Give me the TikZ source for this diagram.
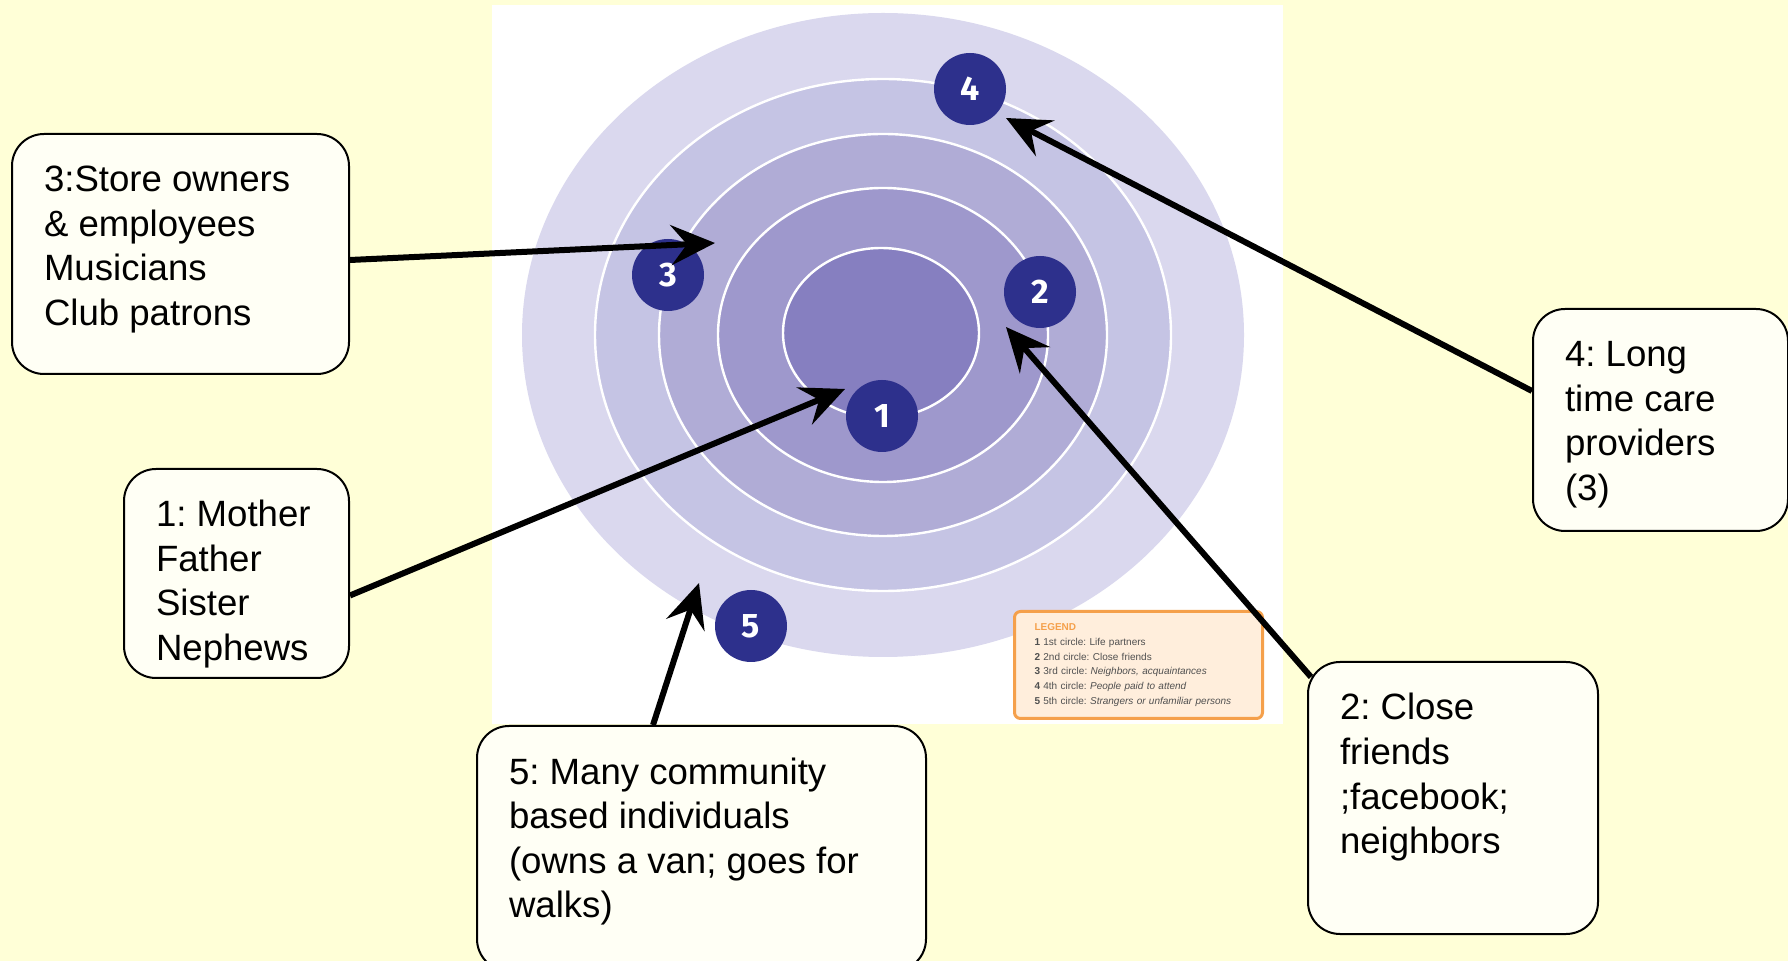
\documentclass[tikz,border=0pt]{standalone}
\usepackage{fontspec}
\setmainfont{Liberation Sans}
\newfontfamily\badgefont{Fira Sans}
\usetikzlibrary{arrows.meta,calc}
\frenchspacing

\definecolor{slidebg}{RGB}{255,255,215}
\definecolor{boxfill}{RGB}{255,255,245}
\definecolor{ringA}{RGB}{218,216,238}
\definecolor{ringB}{RGB}{197,196,228}
\definecolor{ringC}{RGB}{176,172,214}
\definecolor{ringD}{RGB}{158,152,204}
\definecolor{ringE}{RGB}{134,127,192}
\definecolor{badgeblue}{RGB}{45,48,140}
\definecolor{legendorange}{RGB}{245,160,75}
\definecolor{legendfill}{RGB}{255,238,220}
\definecolor{legendtext}{RGB}{80,80,80}

\newcommand{\calloutbox}[3]{\parbox[t][#2][t]{#1}{\raggedright\leftskip=16pt\rule{0pt}{29pt}#3}}

\tikzset{
  ring/.style={draw=white, line width=1.2pt},
  badge/.style={circle, fill=badgeblue, text=white, minimum size=36pt, inner sep=0pt,
    font=\badgefont\bfseries\fontsize{17pt}{17pt}\selectfont},
  callout/.style={draw, line width=1pt, fill=boxfill, rounded corners=16pt, anchor=north west,
    inner sep=0pt, font=\fontsize{18.3pt}{22.25pt}\selectfont},
  legendbox/.style={draw=legendorange, line width=1.5pt, fill=legendfill, rounded corners=3pt,
    anchor=north west, minimum width=124pt, minimum height=53.5pt, inner xsep=9pt, inner ysep=3pt,
    text width=104pt, align=left, text=legendtext, font=\fontsize{5pt}{7.4pt}\selectfont},
  conn/.style={-{Stealth[length=22pt,width=20pt,inset=8pt]}, line width=3pt},
}

\begin{document}
\begin{tikzpicture}[x=0.5pt,y=-0.5pt]
  \useasboundingbox (0,0) rectangle (1788,961);
  \fill[slidebg] (0,0) rectangle (1788,961);
  \clip (0,0) rectangle (1788,961);

  \fill[white] (492,5) rectangle (1283,724);
  \fill[ringA] (883,335) ellipse [x radius=361, y radius=322];
  \draw[ring, fill=ringB] (883,335) ellipse [x radius=288, y radius=256];
  \draw[ring, fill=ringC] (883,335) ellipse [x radius=224, y radius=201];
  \draw[ring, fill=ringD] (883,335) ellipse [x radius=165, y radius=147];
  \draw[ring, fill=ringE] (881,333) ellipse [x radius=98, y radius=85];

  \node[badge] at (882,416) (n1) {1};
  \node[badge] at (1040,292) (n2) {2};
  \node[badge] at (668,275) (n3) {3};
  \node[badge] at (970,89) (n4) {4};
  \node[badge] at (751,626) (n5) {5};

  \node[legendbox] at (1013,610) (legend) {%
    {\color{legendorange}\bfseries LEGEND}\\
    \textbf{1} 1st circle: Life partners\\
    \textbf{2} 2nd circle: Close friends\\
    \textbf{3} 3rd circle: \textit{Neighbors, acquaintances}\\
    \textbf{4} 4th circle: \textit{People paid to attend}\\
    \textbf{5} 5th circle: \textit{Strangers or unfamiliar persons}};

  \node[callout] at (11,133) (b3) {\calloutbox{168.5pt}{120pt}{3:Store owners\\ \& employees\\ Musicians\\ Club patrons}};
  \node[callout] at (123,468) (b1) {\calloutbox{112.5pt}{104.5pt}{1: Mother\\ Father\\ Sister\\ Nephews}};
  \node[callout] at (476,725) (b5) {\calloutbox{224.5pt}{122.5pt}{5: Many community\\ based individuals\\ (owns a van; goes for\\ walks)}};
  \node[callout] at (1307,661) (b2) {\calloutbox{145pt}{136pt}{2: Close\\ friends\\ ;facebook;\\ neighbors}};
  \node[callout] at (1532,308) (b4) {\calloutbox{127.5pt}{111pt}{4: Long\\ time care\\ providers\\ (3)}};

  \coordinate (t1) at (845,389);
  \coordinate (t2) at (1006,327);
  \coordinate (t3) at (715,243);
  \coordinate (t4) at (1006,118);
  \coordinate (t5) at (699,583);

  \draw[conn] ($(b3.east)+(0,6)$) -- (t3);
  \draw[conn] ($(b1.east)+(0,22)$) -- (t1);
  \draw[conn] ($(b5.north west)+(177,0)$) -- (t5);
  \draw[conn] ($(b2.north west)+(4,16)$) -- (t2);
  \draw[conn] ($(b4.west)+(0,-29)$) -- (t4);
\end{tikzpicture}
\end{document}
